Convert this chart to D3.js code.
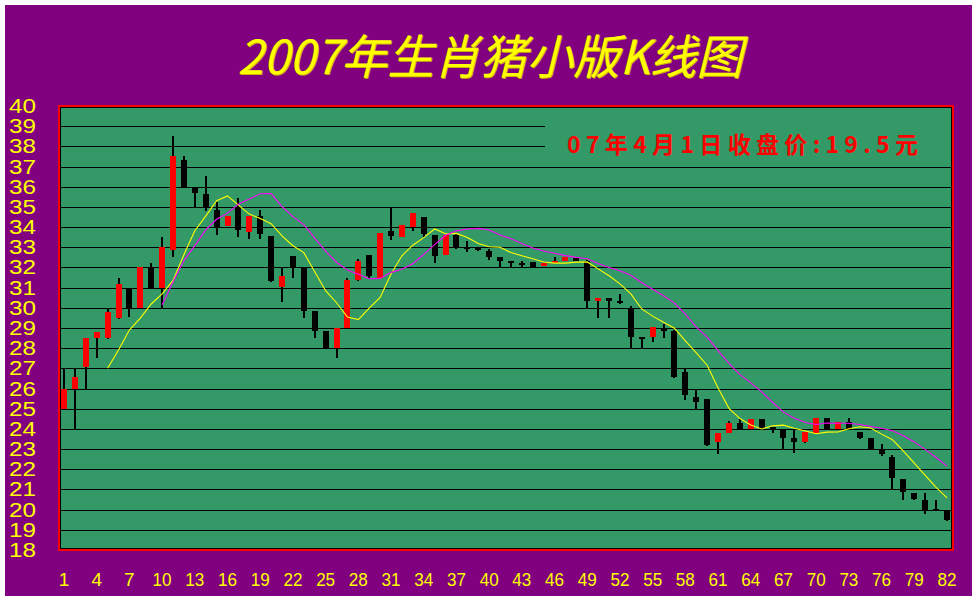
<!DOCTYPE html>
<html><head><meta charset="utf-8">
<script src="https://cdn.jsdelivr.net/npm/d3@7"></script>
<style>html,body{margin:0;padding:0;background:#fff;} svg{display:block}</style>
</head><body>
<svg id="c" width="977" height="600"></svg>
<script>
// ---- data ----
const days = d3.range(1, 83);
const opens = [25.0,26.0,27.05,28.5,28.5,29.5,30.95,30.0,32.0,31.0,
  32.85,37.3,35.95,35.62,34.83,34.03,35.0,33.75,34.53,33.54,
  31.02,32.55,32.03,29.82,28.83,28.03,29.0,31.4,32.64,31.5,
  33.83,33.53,34.02,34.52,33.63,32.64,33.63,33.02,33.0,32.84,
  32.5,32.33,32.24,32.25,32.05,32.21,32.33,32.48,32.3,30.33,
  30.5,30.33,30.0,28.56,28.55,29.0,28.85,26.84,25.59,25.5,
  23.34,23.82,24.31,24.02,24.51,24.1,24.0,23.53,23.34,23.82,
  24.52,24.02,24.32,23.84,23.53,23.0,22.63,21.52,20.83,20.5,
  20.04,20.0];
const highs = [27.0,27.0,28.5,28.8,29.95,31.5,30.95,32.0,32.2,33.5,
  38.5,37.5,35.95,36.53,35.24,34.53,35.42,34.53,34.83,33.54,
  32.03,32.55,32.03,29.82,28.83,29.02,31.5,32.44,32.64,33.73,
  35.0,34.12,34.72,34.52,33.63,33.63,33.7,33.33,33.0,32.9,
  32.5,32.33,32.33,32.25,32.21,32.5,32.5,32.48,32.35,30.5,
  30.5,30.7,30.1,28.56,29.03,29.22,28.9,27.0,25.95,25.5,
  23.82,24.41,24.5,24.51,24.51,24.1,24.0,24.0,23.84,24.52,
  24.52,24.32,24.52,23.84,23.53,23.23,22.73,21.52,20.83,20.83,
  20.5,20.0];
const lows = [25.0,24.0,26.0,27.5,28.45,29.45,29.55,30.0,31.0,30.0,
  32.5,35.95,35.0,34.8,33.6,34.03,33.5,33.4,33.4,31.27,
  30.28,31.47,29.49,28.5,28.03,27.5,29.0,31.35,31.43,31.5,
  33.38,33.5,33.8,33.5,32.2,32.6,32.9,32.77,32.8,32.38,
  32.0,32.0,32.0,32.0,32.05,32.21,32.3,32.3,30.0,29.5,
  29.5,30.2,28.0,28.0,28.3,28.5,26.5,25.45,25.0,23.17,
  22.78,23.8,24.0,24.02,24.0,23.8,23.0,22.8,23.3,23.82,
  24.02,24.02,24.02,23.5,23.0,22.68,21.03,20.46,20.46,19.77,
  20.0,19.45];
const closes = [26.0,26.55,28.5,28.8,29.8,31.2,30.0,32.0,31.0,33.0,
  37.5,35.95,35.7,35.0,34.0,34.53,33.85,34.53,33.65,31.32,
  31.6,32.03,29.83,28.83,28.03,29.02,31.4,32.34,31.6,33.73,
  33.55,34.12,34.72,33.64,32.55,33.63,33.0,33.0,32.85,32.54,
  32.34,32.25,32.22,32.0,32.21,32.33,32.5,32.34,30.33,30.5,
  30.33,30.3,28.55,28.5,29.03,28.85,26.55,25.7,25.32,23.22,
  23.82,24.31,24.0,24.51,24.02,23.97,23.53,23.35,23.84,24.52,
  24.02,24.32,24.02,23.53,23.0,22.75,21.56,20.86,20.53,20.0,
  20.0,19.5];
const yTickValues = d3.range(18, 41);
const xTickValues = d3.range(1, 83, 3);
const titleText = "2007年生肖猪小版K线图";
const noteText = "07年4月1日收盘价:19.5元";

// moving averages as the chart shows them (5-day and 10-day)
function movingAvg(arr, n) {
  return arr.map((v, i) => i < n - 1 ? null : d3.mean(arr.slice(i - n + 1, i + 1)));
}
const ma5 = movingAvg(opens, 5);
const ma10 = movingAvg(highs, 10);

const svg = d3.select("#c");
const GREEN = "#339966", PURPLE = "#800080";

svg.append("rect").attr("x", 5).attr("y", 5).attr("width", 967).attr("height", 591).attr("fill", PURPLE);

const x = d3.scaleLinear().domain([1, 82]).range([64, 947]);
const y = d3.scaleLinear().domain([18, 40]).range([550, 106]);

// plot frame
svg.append("rect").attr("x", 59).attr("y", 106).attr("width", 894).attr("height", 444)
  .attr("fill", GREEN).attr("stroke", "#ff0000").attr("stroke-width", 2);
svg.append("rect").attr("x", 60.5).attr("y", 107.5).attr("width", 891).attr("height", 441)
  .attr("fill", "none").attr("stroke", "#000").attr("stroke-width", 1);

// grid lines
svg.append("g").selectAll("line").data(yTickValues.filter(v => v > 18 && v < 40)).join("line")
  .attr("x1", 61).attr("x2", 951)
  .attr("y1", d => Math.round(y(d)) + 0.5).attr("y2", d => Math.round(y(d)) + 0.5)
  .attr("stroke", "#000").attr("stroke-width", 1).attr("shape-rendering", "crispEdges");

// annotation background
svg.append("rect").attr("x", 545).attr("y", 108).attr("width", 406).attr("height", 56).attr("fill", GREEN);
svg.append("text").attr("x", 567).attr("y", 153)
  .attr("font-family", "'Noto Sans CJK SC', sans-serif").attr("font-weight", "bold")
  .attr("font-size", 23).attr("fill", "#ff0000")
  .attr("textLength", 351).attr("lengthAdjust", "spacing")
  .text(noteText);

// y labels
svg.append("g").selectAll("text").data(yTickValues).join("text")
  .attr("x", 9).attr("y", d => y(d) + 7)
  .attr("font-family", "'Liberation Sans', Arial, sans-serif").attr("font-size", 19.5)
  .attr("fill", "#ffff00")
  .attr("textLength", 27).attr("lengthAdjust", "spacingAndGlyphs")
  .text(d => d);

// x labels
svg.append("g").selectAll("text").data(xTickValues).join("text")
  .attr("x", d => x(d)).attr("y", 586).attr("text-anchor", "middle")
  .attr("font-family", "'Liberation Sans', Arial, sans-serif").attr("font-size", 19)
  .attr("fill", "#ffff00")
  .each(function(d) { if (String(d).length > 1) d3.select(this).attr("textLength", 19).attr("lengthAdjust", "spacingAndGlyphs"); })
  .text(d => d);

// candles
const candles = days.map((d, i) => ({ d, o: opens[i], h: highs[i], l: lows[i], c: closes[i] }));
const cg = svg.append("g").attr("shape-rendering", "crispEdges");
cg.selectAll("rect.wick").data(candles).join("rect").attr("class", "wick")
  .attr("x", k => Math.round(x(k.d)) - 1).attr("width", 2)
  .attr("y", k => y(k.h)).attr("height", k => Math.max(1, y(k.l) - y(k.h)))
  .attr("fill", "#000");
cg.selectAll("rect.body").data(candles).join("rect").attr("class", "body")
  .attr("x", k => Math.round(x(k.d)) - 3).attr("width", 6)
  .attr("y", k => y(Math.max(k.o, k.c)))
  .attr("height", k => Math.max(2, Math.abs(y(k.o) - y(k.c))))
  .attr("fill", k => k.c > k.o ? "#ff0000" : "#000");

// moving average lines
const line = d3.line().defined(d => d[1] != null).x(d => x(d[0])).y(d => y(d[1]));
svg.append("path").datum(days.map((d, i) => [d, ma5[i]]))
  .attr("d", line).attr("fill", "none").attr("stroke", "#ffff00").attr("stroke-width", 1.1);
svg.append("path").datum(days.map((d, i) => [d, ma10[i]]))
  .attr("d", line).attr("fill", "none").attr("stroke", "#ff00ff").attr("stroke-width", 1.1);

// title
const titleFont = "'Noto Sans CJK SC', sans-serif";
svg.append("text").attr("x", 491).attr("y", 75).attr("text-anchor", "middle")
  .attr("font-family", titleFont).attr("font-size", 47).attr("font-style", "italic")
  .attr("fill", "#c8b400").attr("textLength", 505).attr("lengthAdjust", "spacingAndGlyphs")
  .text(titleText);
svg.append("text").attr("x", 490).attr("y", 74).attr("text-anchor", "middle")
  .attr("font-family", titleFont).attr("font-size", 47).attr("font-style", "italic")
  .attr("fill", "#ffff00").attr("textLength", 505).attr("lengthAdjust", "spacingAndGlyphs")
  .text(titleText);
</script>
</body></html>
